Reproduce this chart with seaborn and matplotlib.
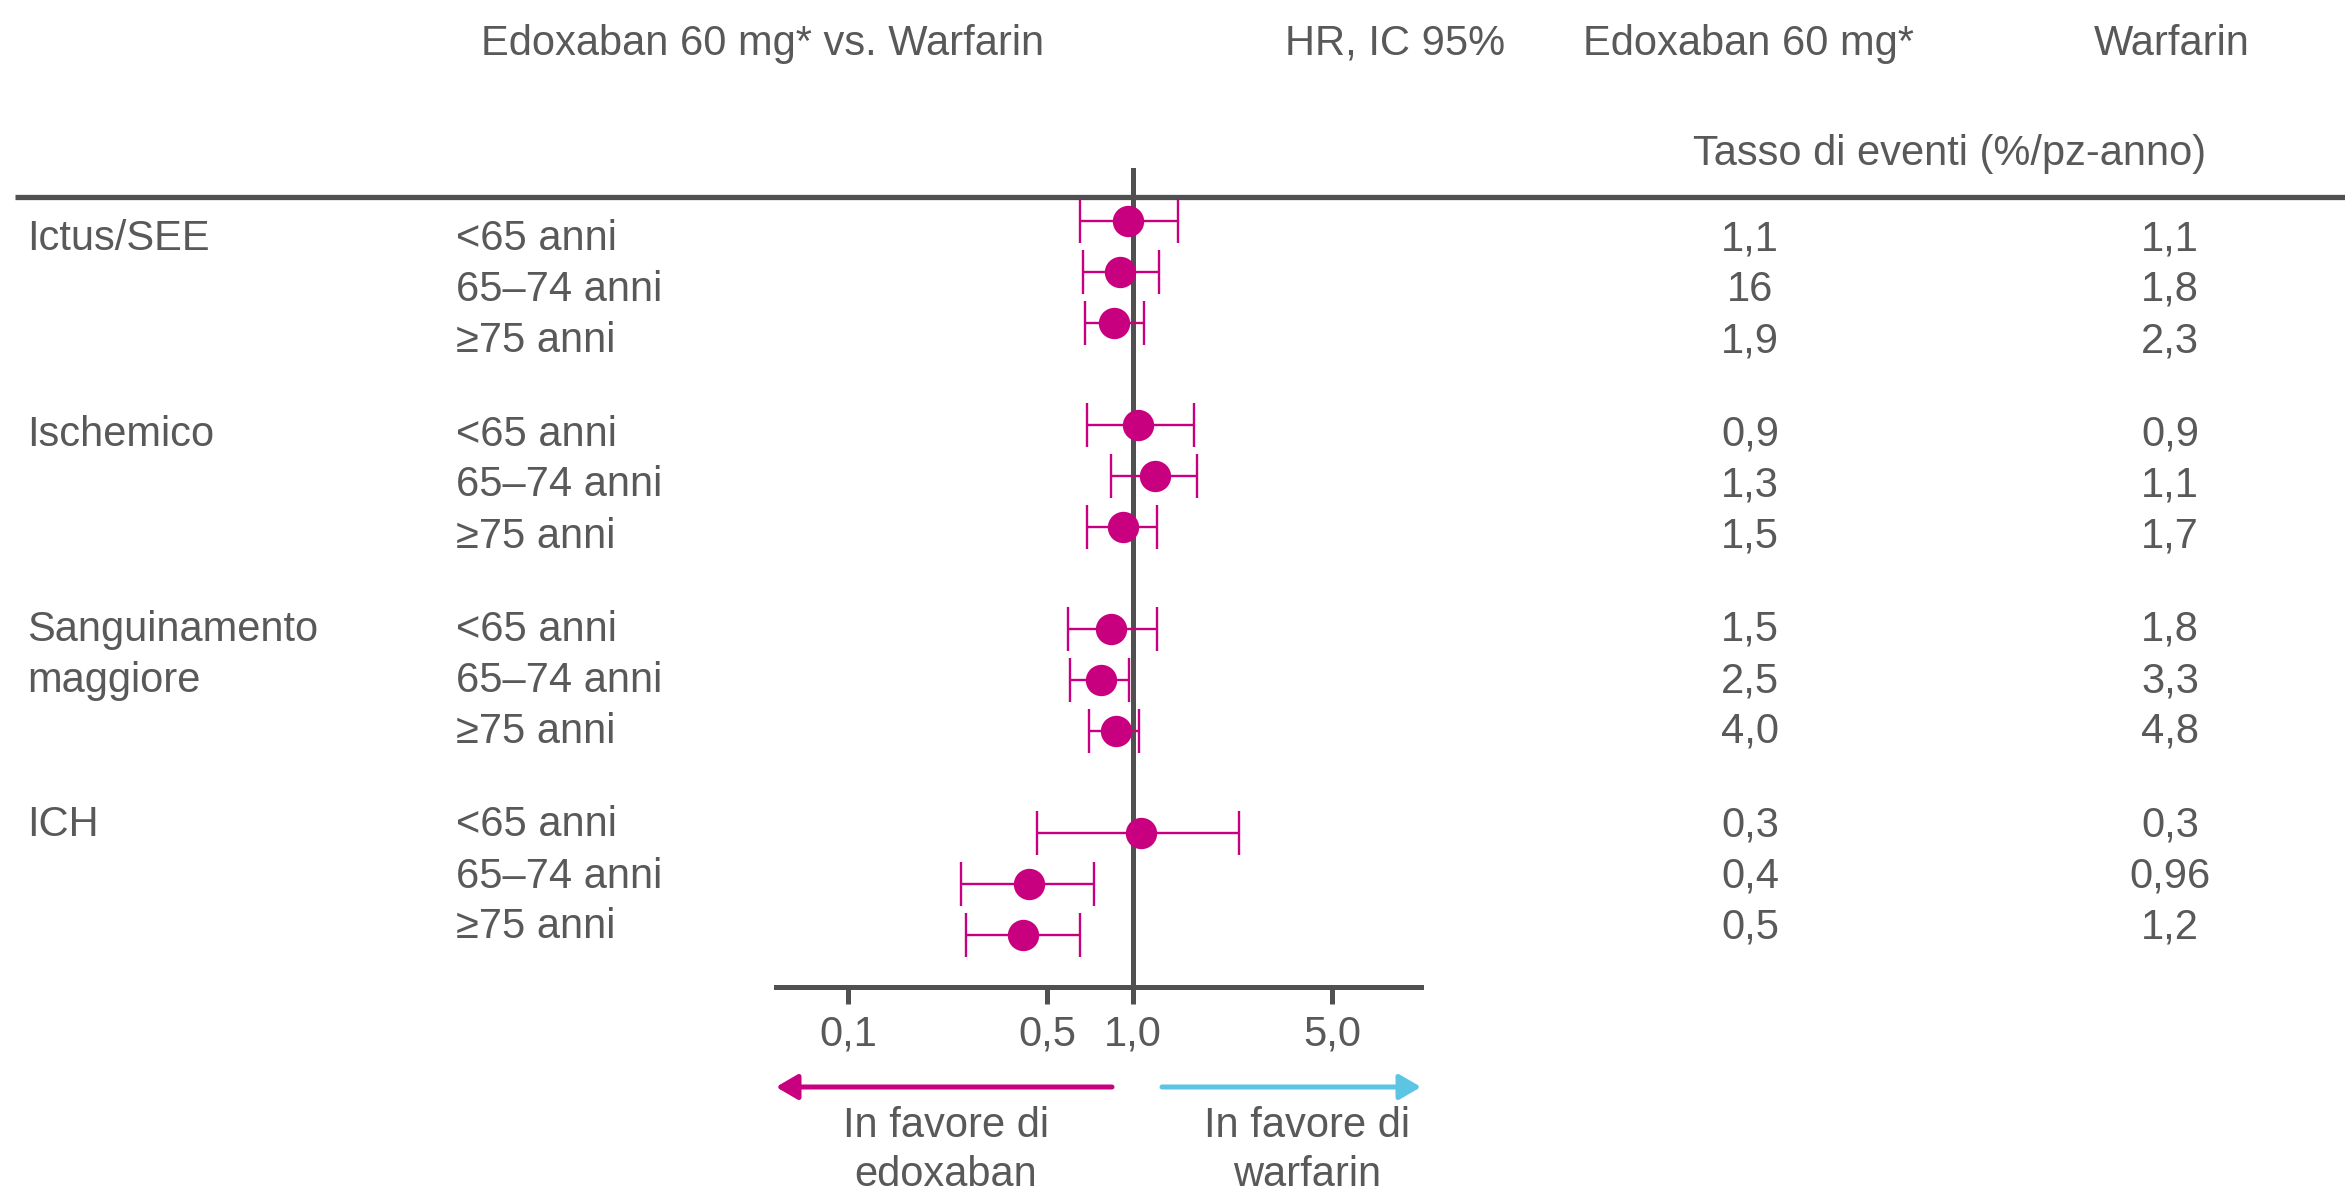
import matplotlib

matplotlib.use("Agg")

import matplotlib.pyplot as plt
import numpy as np
import pandas as pd
import seaborn as sns
from matplotlib.ticker import NullLocator


categories = ["Ictus/SEE", "Ischemico", "Sanguinamento\nmaggiore", "ICH"]
age_groups = ["<65 anni", "65–74 anni", "≥75 anni"]

hr = [0.96, 0.90, 0.86, 1.04, 1.19, 0.92, 0.84, 0.77, 0.87, 1.07, 0.43, 0.41]
ci_low = [0.65, 0.67, 0.68, 0.69, 0.84, 0.69, 0.59, 0.60, 0.70, 0.46, 0.25, 0.26]
ci_high = [1.44, 1.23, 1.09, 1.63, 1.67, 1.21, 1.21, 0.97, 1.05, 2.35, 0.73, 0.65]

rate_edoxaban = ["1,1", "16", "1,9", "0,9", "1,3", "1,5", "1,5", "2,5", "4,0", "0,3", "0,4", "0,5"]
rate_warfarin = ["1,1", "1,8", "2,3", "0,9", "1,1", "1,7", "1,8", "3,3", "4,8", "0,3", "0,96", "1,2"]

tick_values = [0.1, 0.5, 1.0, 5.0]
tick_labels = ["0,1", "0,5", "1,0", "5,0"]

PINK = "#C8007F"
BLUE = "#5BC5E3"
TEXT = "#595959"
LINE = "#505050"

W, H = 2345, 1192
FS = 30
CAP = 15  # half cap height in px, used to put baselines under visual centres


def px_to_fig(left, top, right, bottom):
    return [left / W, 1 - bottom / H, (right - left) / W, (bottom - top) / H]


def main() -> None:
    sns.set_theme(style="white")
    plt.rcParams["font.family"] = ["Liberation Sans", "DejaVu Sans"]

    n_groups = len(categories)
    n_sub = len(age_groups)
    df = pd.DataFrame(
        {
            "category": np.repeat(categories, n_sub),
            "age": age_groups * n_groups,
            "hr": hr,
            "low": ci_low,
            "high": ci_high,
        }
    )
    group = np.repeat(np.arange(n_groups), n_sub)
    sub = np.tile(np.arange(n_sub), n_groups)
    df["row"] = group * (n_sub + 1) + sub

    fig = plt.figure(figsize=(W / 100, H / 100), dpi=100)

    # background axes in pixel units for the table text and rules
    bg = fig.add_axes([0, 0, 1, 1])
    bg.set_xlim(0, W)
    bg.set_ylim(H, 0)
    bg.axis("off")

    def txt(x, y, s, ha="left"):
        bg.text(x, y + CAP, s, ha=ha, va="baseline", fontsize=FS, color=TEXT)

    txt(763, 40, "Edoxaban 60 mg* vs. Warfarin", ha="center")
    txt(1505, 40, "HR, IC 95%", ha="right")
    txt(1748, 40, "Edoxaban 60 mg*", ha="center")
    txt(2172, 40, "Warfarin", ha="center")
    txt(1950, 150, "Tasso di eventi (%/pz-anno)", ha="center")
    bg.plot([15, W], [197, 197], color=LINE, lw=3.8, solid_capstyle="butt")

    for g, cat in enumerate(categories):
        for line_i, part in enumerate(cat.split("\n")):
            txt(27, 235 + 195.5 * g + 51 * line_i, part)
    for i, row in df.iterrows():
        y = 235 + 195.5 * group[i] + 51 * sub[i]
        txt(456, y, row["age"])
        txt(1750, y, rate_edoxaban[i], ha="center")
        txt(2170, y, rate_warfarin[i], ha="center")

    # favour arrows and captions
    arrow = dict(shrinkA=0, shrinkB=0, mutation_scale=20, lw=3.6)
    bg.annotate("", xy=(776, 1087), xytext=(1112, 1087),
                arrowprops=dict(arrowstyle="-|>,head_length=0.65,head_width=0.38", color=PINK, **arrow))
    bg.annotate("", xy=(1421, 1087), xytext=(1162, 1087),
                arrowprops=dict(arrowstyle="-|>,head_length=0.65,head_width=0.38", color=BLUE, **arrow))
    txt(946, 1122, "In favore di", ha="center")
    txt(946, 1171, "edoxaban", ha="center")
    txt(1307, 1122, "In favore di", ha="center")
    txt(1307, 1171, "warfarin", ha="center")

    # forest plot
    ax = fig.add_axes(px_to_fig(776, 168, 1421, 987))
    ax.patch.set_alpha(0)
    ax.axvline(1.0, color=LINE, lw=3.6, zorder=1)
    ax.errorbar(
        df["hr"], df["row"],
        xerr=[df["hr"] - df["low"], df["high"] - df["hr"]],
        fmt="none", ecolor=PINK, elinewidth=1.7, capsize=15.5, capthick=1.7, zorder=2,
    )
    sns.scatterplot(data=df, x="hr", y="row", color=PINK, s=510, linewidth=0, ax=ax, zorder=3)

    ax.set_xscale("log")
    ax.set_xlim(0.0559, 10.24)
    ax.set_ylim((987 - 221) / 51, (168 - 221) / 51)
    ax.set_xlabel("")
    ax.set_ylabel("")
    ax.set_yticks([])
    ax.set_xticks(tick_values)
    ax.set_xticklabels(tick_labels)
    ax.xaxis.set_minor_locator(NullLocator())
    ax.tick_params(axis="x", bottom=True, direction="out", length=12, width=3.6,
                   color=LINE, labelsize=FS, labelcolor=TEXT, pad=8)
    sns.despine(ax=ax, left=True)
    ax.spines["bottom"].set_color(LINE)
    ax.spines["bottom"].set_linewidth(3.6)

    fig.savefig("out.png", dpi=100)
    plt.close(fig)


if __name__ == "__main__":
    main()
